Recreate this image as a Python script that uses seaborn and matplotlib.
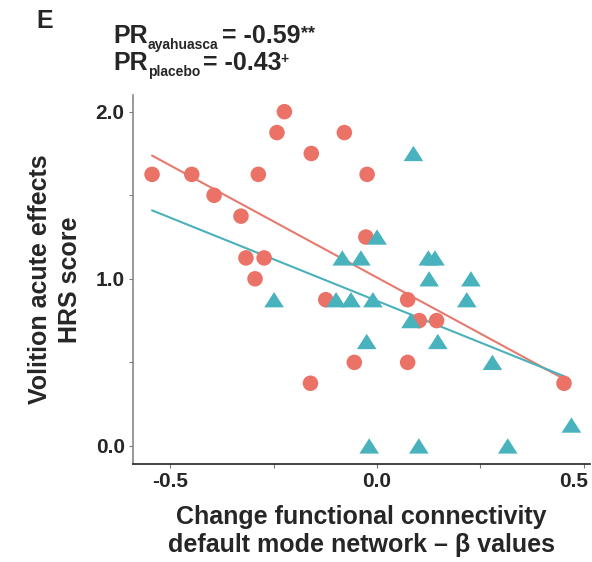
import numpy as np
import pandas as pd
import matplotlib
matplotlib.use("Agg")
import matplotlib.pyplot as plt
import matplotlib.transforms as mtransforms
import seaborn as sns

# ---- data ----
aya_x = [-0.544, -0.448, -0.394, -0.329, -0.317, -0.273, -0.295, -0.287, -0.242, -0.224,
         -0.159, -0.079, -0.024, -0.027, -0.124, -0.161, -0.055, 0.074, 0.102, 0.144,
         0.074, 0.452]
aya_y = [1.625, 1.625, 1.5, 1.375, 1.125, 1.125, 1.0, 1.625, 1.875, 2.0,
         1.75, 1.875, 1.625, 1.25, 0.875, 0.375, 0.5, 0.875, 0.75, 0.75,
         0.5, 0.375]
pla_x = [-0.249, -0.099, -0.063, -0.010, -0.084, -0.039, 0.000, 0.088, 0.124, 0.140,
         0.126, 0.227, 0.217, 0.082, -0.025, 0.147, 0.279, 0.470, -0.019, 0.101, 0.316]
pla_y = [0.875, 0.875, 0.875, 0.875, 1.125, 1.125, 1.25, 1.75, 1.125, 1.125,
         1.0, 1.0, 0.875, 0.75, 0.625, 0.625, 0.5, 0.125, 0.0, 0.0, 0.0]
groups = ["ayahuasca", "placebo"]
pr_values = ["-0.59", "-0.43"]
pr_marks = ["**", "+"]
colors = {"ayahuasca": "#EB7266", "placebo": "#49B3BD"}
line_colors = {"ayahuasca": "#E47B6E", "placebo": "#4AB1BB"}
x_ticks = [-0.5, -0.25, 0.0, 0.25, 0.5]
x_ticklabels = ["-0.5", "", "0.0", "", "0.5"]
y_ticks = [0.0, 0.5, 1.0, 1.5, 2.0]
y_ticklabels = ["0.0", "", "1.0", "", "2.0"]

df = pd.DataFrame({
    "x": aya_x + pla_x,
    "y": aya_y + pla_y,
    "group": ["ayahuasca"] * len(aya_x) + ["placebo"] * len(pla_x),
})

sns.set_style("white")
plt.rcParams["font.family"] = ["Liberation Sans", "DejaVu Sans"]
plt.rcParams["font.weight"] = "bold"

fig = plt.figure(figsize=(5.92, 5.62), dpi=100)
ax = fig.add_axes([0.2247, 0.1744, 0.772, 0.6566])

tri = [(0, 0.78), (-1, -0.78), (1, -0.78), (0, 0.78)]
sns.scatterplot(data=df, x="x", y="y", hue="group", style="group",
                palette=colors, markers={"ayahuasca": "o", "placebo": tri},
                size="group", sizes={"ayahuasca": 125, "placebo": 200},
                linewidth=0, alpha=1, legend=False, ax=ax, zorder=3)

# regression lines, fitted to each group, drawn over the ayahuasca x-range
xr = np.array([min(aya_x), max(aya_x)])
for g, xs, ys in [("ayahuasca", aya_x, aya_y), ("placebo", pla_x, pla_y)]:
    k, b = np.polyfit(xs, ys, 1)
    sns.lineplot(x=xr, y=k * xr + b, color=line_colors[g], lw=1.5, ax=ax, zorder=2)

ax.set_xlim(-0.59, 0.515)
ax.set_ylim(-0.108, 2.10)
ax.set_xticks(x_ticks)
ax.set_xticklabels(x_ticklabels)
ax.set_yticks(y_ticks)
ax.set_yticklabels(y_ticklabels)
ax.tick_params(axis="both", which="major", length=3, width=0.8, color="#777777",
               labelsize=15, pad=3, bottom=True, left=True)
last = ax.get_xticklabels()[-1]
last.set_transform(last.get_transform() +
                   mtransforms.ScaledTranslation(-10 / 100, 0, fig.dpi_scale_trans))
for s in ["top", "right"]:
    ax.spines[s].set_visible(False)
ax.spines["left"].set_color("#888888")
ax.spines["left"].set_linewidth(1.2)
ax.spines["bottom"].set_color("#222222")
ax.spines["bottom"].set_linewidth(1.2)

ax.set_xlabel("Change functional connectivity\ndefault mode network \u2013 \u03b2 values",
              fontsize=18, fontweight="bold", labelpad=10, linespacing=1.2)
ax.set_ylabel("Volition acute effects\nHRS score", fontsize=18, fontweight="bold",
              labelpad=10, linespacing=1.3)

fig.text(0.075, 0.962, "E", fontsize=18, fontweight="bold", ha="center", va="center")

# PR annotations: "PR" + subscript + value + superscript mark
for i, (g, v, m) in enumerate(zip(groups, pr_values, pr_marks)):
    yb = 0.9235 - i * 0.0481
    t1 = fig.text(0.1909, yb, "PR", fontsize=18, fontweight="bold",
                  ha="left", va="baseline")
    t2 = ax.annotate(g, xy=(1, 0), xycoords=t1, xytext=(0, -1),
                     textcoords="offset points", fontsize=10, fontweight="bold",
                     ha="left", va="baseline")
    t3 = ax.annotate("= " + v, xy=(1, 0), xycoords=(t2, t1), xytext=(2.5, 0),
                     textcoords="offset points", fontsize=18, fontweight="bold",
                     ha="left", va="bottom")
    ax.annotate(m, xy=(1, 1), xycoords=t3,
                xytext=(0.5, -1) if m == "**" else (-1, -1),
                textcoords="offset points", fontsize=13 if m == "**" else 10,
                fontweight="bold", ha="left", va="top")

fig.savefig("out.png", dpi=100)
